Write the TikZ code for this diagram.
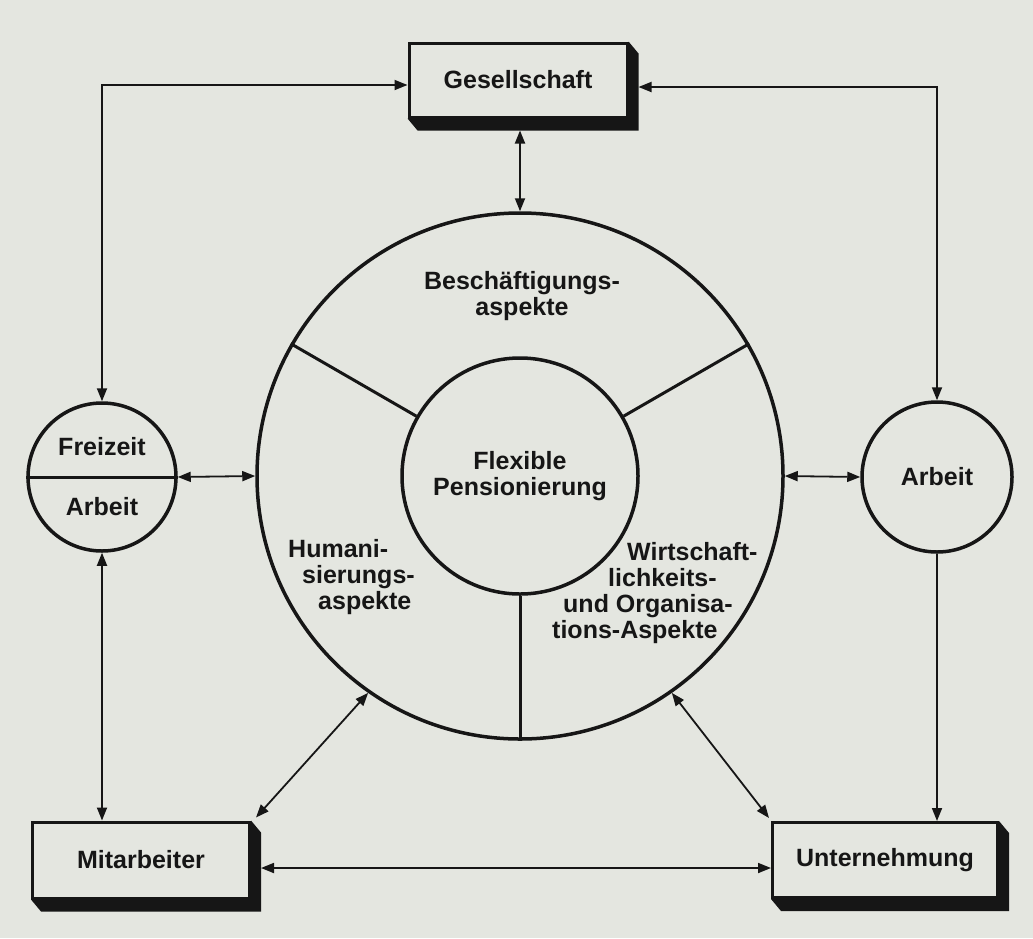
\documentclass[tikz,border=0pt]{standalone}
\usepackage{fontspec}
\setmainfont{Liberation Sans}
\usetikzlibrary{arrows.meta,calc}
\definecolor{FPPaper}{HTML}{E4E6E0}
\definecolor{FPInk}{HTML}{161616}
\tikzset{
  fptext/.style={
    font=\fontsize{25}{26}\selectfont\bfseries,
    text=FPInk,
    align=center,
    inner sep=0pt
  },
  fpbox/.style={
    rectangle,
    draw=FPInk,
    line width=3pt,
    fill=FPPaper,
    fptext,
    minimum width=218pt,
    minimum height=75pt
  },
  fpring/.style={circle,draw=FPInk,line width=3.5pt,inner sep=0pt,fptext},
  fpshade/.style={fill=FPInk},
  fpline/.style={draw=FPInk,line width=3pt},
  fparrow/.style={{Triangle[length=13pt,width=10pt]}-{Triangle[length=13pt,width=10pt]},
    line width=1.8pt,draw=FPInk},
  fponeway/.style={-{Triangle[length=13pt,width=10pt]},line width=1.8pt,draw=FPInk},
}
\begin{document}
\begin{tikzpicture}[x=1pt,y=-1pt]
  \fill[FPPaper] (0,0) rectangle (1033,938);

  % centre: flexible retirement and its three aspects
  \node[fpring,minimum size=526pt] (ring) at (520,476) {};
  \node[fpring,minimum size=236pt] (core) at (520,476) {Flexible\\Pensionierung};
  \foreach \angle in {30,150,270}
    \draw[fpline] (core.\angle) -- (ring.\angle);
  \node[fptext] (beschaeft) at (522,296) {Beschäftigungs-\\aspekte};
  \node[fptext,align=left,anchor=west] (human) at (288,577)
    {Humani-\\\hspace*{14pt}sierungs-\\\hspace*{30pt}aspekte};
  \node[fptext,align=left,anchor=west] (wirtsch) at (552,593)
    {\hspace*{75pt}Wirtschaft-\\\hspace*{56pt}lichkeits-\\\hspace*{11pt}und Organisa-\\tions-Aspekte};

  % side circles
  \node[fpring,minimum size=148pt] (free) at (102,477) {};
  \draw[fpline] (free.west) -- (free.east);
  \node[fptext] (freizeit) at ($(free)+(0,-30)$) {Freizeit};
  \node[fptext] (arbeitL) at ($(free)+(0,30)$) {Arbeit};
  \node[fpring,minimum size=150pt] (arbeit) at (937,477) {Arbeit};

  % boxes
  \node[fpbox,minimum height=74pt] (ges) at (518,80) {Gesellschaft};
  \node[fpbox,minimum width=217pt,minimum height=76pt] (mit) at (141,860) {Mitarbeiter};
  \node[fpbox,minimum width=225pt] (unt) at (885,860) {Unternehmung};
  \foreach \boxName in {ges,mit,unt}
    \fill[fpshade] (\boxName.south west) -- ++(10,12)
      -- ($(\boxName.south east)+(10,12)$) -- ($(\boxName.north east)+(10,12)$)
      -- (\boxName.north east) -- (\boxName.south east) -- cycle;

  \draw[fparrow] ([yshift=-5pt]ges.west) -| (free.north);
  \draw[fparrow] ([shift={(10pt,-7pt)}]ges.east) -| (arbeit.north);
  \draw[fparrow] ([yshift=-12pt]ges.south -| ring.north) -- (ring.north);
  \draw[fparrow] (free.east) -- (ring.west);
  \draw[fparrow] (ring.east) -- (arbeit.west);
  \draw[fparrow] (free.south) -- (free.south |- mit.north);
  \draw[fponeway] (arbeit.south) -- (arbeit.south |- unt.north);
  \draw[fparrow] (ring.235) -- ([shift={(5pt,3pt)}]mit.north east);
  \draw[fparrow] (ring.305) -- ([shift={(-2pt,3pt)}]unt.north west);
  \draw[fparrow] ([shift={(10pt,-8pt)}]mit.east) -- ([yshift=-8pt]unt.west);
\end{tikzpicture}
\end{document}
